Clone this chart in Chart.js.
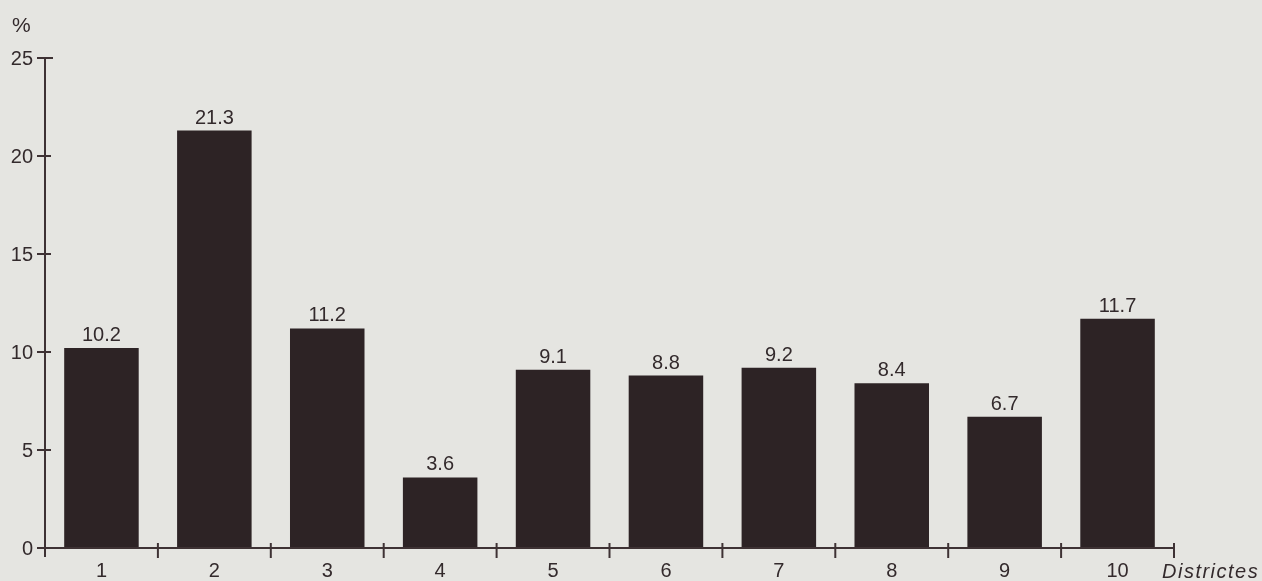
<!DOCTYPE html>
<html>
<head>
<meta charset="utf-8">
<script src="https://cdn.jsdelivr.net/npm/chart.js@4/dist/chart.umd.min.js"></script>
<style>
  html, body { margin: 0; padding: 0; background: #e5e5e1; }
  #wrap { width: 1262px; height: 581px; position: relative; }
</style>
</head>
<body>
<div id="wrap"><canvas id="c" width="1262" height="581"></canvas></div>
<script>
const categories = ["1", "2", "3", "4", "5", "6", "7", "8", "9", "10"];
const values = [10.2, 21.3, 11.2, 3.6, 9.1, 8.8, 9.2, 8.4, 6.7, 11.7];
const valueLabels = ["10.2", "21.3", "11.2", "3.6", "9.1", "8.8", "9.2", "8.4", "6.7", "11.7"];
const yTicks = [0, 5, 10, 15, 20, 25];

const AXIS = "#3e3234";
const TEXT = "#332a2c";
const BAR = "#2d2325";
const FONT = "'Liberation Sans', Arial, Helvetica, sans-serif";

const axesPlugin = {
  id: "axesPlugin",
  afterDatasetsDraw(chart) {
    const ctx = chart.ctx;
    const x = chart.scales.x, y = chart.scales.y;
    const left = x.left, right = x.right;
    const y0 = y.getPixelForValue(0), yTop = y.getPixelForValue(25);
    ctx.save();
    ctx.strokeStyle = AXIS;
    ctx.lineWidth = 2;
    // y axis
    ctx.beginPath();
    ctx.moveTo(left, yTop);
    ctx.lineTo(left, y0 + 9);
    ctx.stroke();
    // y ticks
    yTicks.forEach(v => {
      const py = y.getPixelForValue(v);
      ctx.beginPath();
      ctx.moveTo(left - 8, py);
      ctx.lineTo(left + (v === 25 ? 8 : 6), py);
      ctx.stroke();
    });
    // x axis
    ctx.beginPath();
    ctx.moveTo(left, y0);
    ctx.lineTo(right, y0);
    ctx.stroke();
    // x ticks at category boundaries
    const n = categories.length;
    for (let i = 1; i <= n; i++) {
      const px = left + (right - left) * i / n;
      ctx.beginPath();
      ctx.moveTo(px, y0 - 5);
      ctx.lineTo(px, y0 + 10);
      ctx.stroke();
    }
    ctx.fillStyle = TEXT;
    ctx.textBaseline = "alphabetic";
    // x category labels
    ctx.font = "20px " + FONT;
    ctx.textAlign = "center";
    categories.forEach((c, i) => {
      ctx.fillText(c, x.getPixelForValue(i), y0 + 29);
    });
    // y tick labels
    ctx.textAlign = "right";
    yTicks.forEach(v => {
      ctx.fillText(String(v), left - 12, y.getPixelForValue(v) + 7);
    });
    // value labels
    ctx.textAlign = "center";
    const meta = chart.getDatasetMeta(0);
    meta.data.forEach((bar, i) => {
      ctx.fillText(valueLabels[i], bar.x, bar.y - 7);
    });
    // unit label
    ctx.font = "21px " + FONT;
    ctx.textAlign = "left";
    ctx.fillText("%", 12, 32);
    // axis title
    ctx.font = "italic 20px " + FONT;
    ctx.letterSpacing = "1.5px";
    ctx.fillText("Districtes", 1162, 578);
    ctx.restore();
  }
};

new Chart(document.getElementById("c"), {
  type: "bar",
  data: {
    labels: categories,
    datasets: [{
      data: values,
      backgroundColor: BAR,
      borderWidth: 0,
      categoryPercentage: 1.0,
      barPercentage: 0.66
    }]
  },
  options: {
    responsive: false,
    animation: false,
    layout: { padding: { left: 0, right: 88, top: 58, bottom: 0 } },
    plugins: { legend: { display: false }, tooltip: { enabled: false } },
    scales: {
      x: {
        afterFit(scale) { scale.height = 33; },
        grid: { display: false, drawTicks: false },
        border: { display: false },
        ticks: { display: false }
      },
      y: {
        min: 0, max: 25,
        afterBuildTicks(scale) { scale.ticks = yTicks.map(v => ({ value: v })); },
        afterFit(scale) { scale.width = 45; },
        grid: { display: false, drawTicks: false },
        border: { display: false },
        ticks: { display: false }
      }
    }
  },
  plugins: [axesPlugin]
});
</script>
</body>
</html>
